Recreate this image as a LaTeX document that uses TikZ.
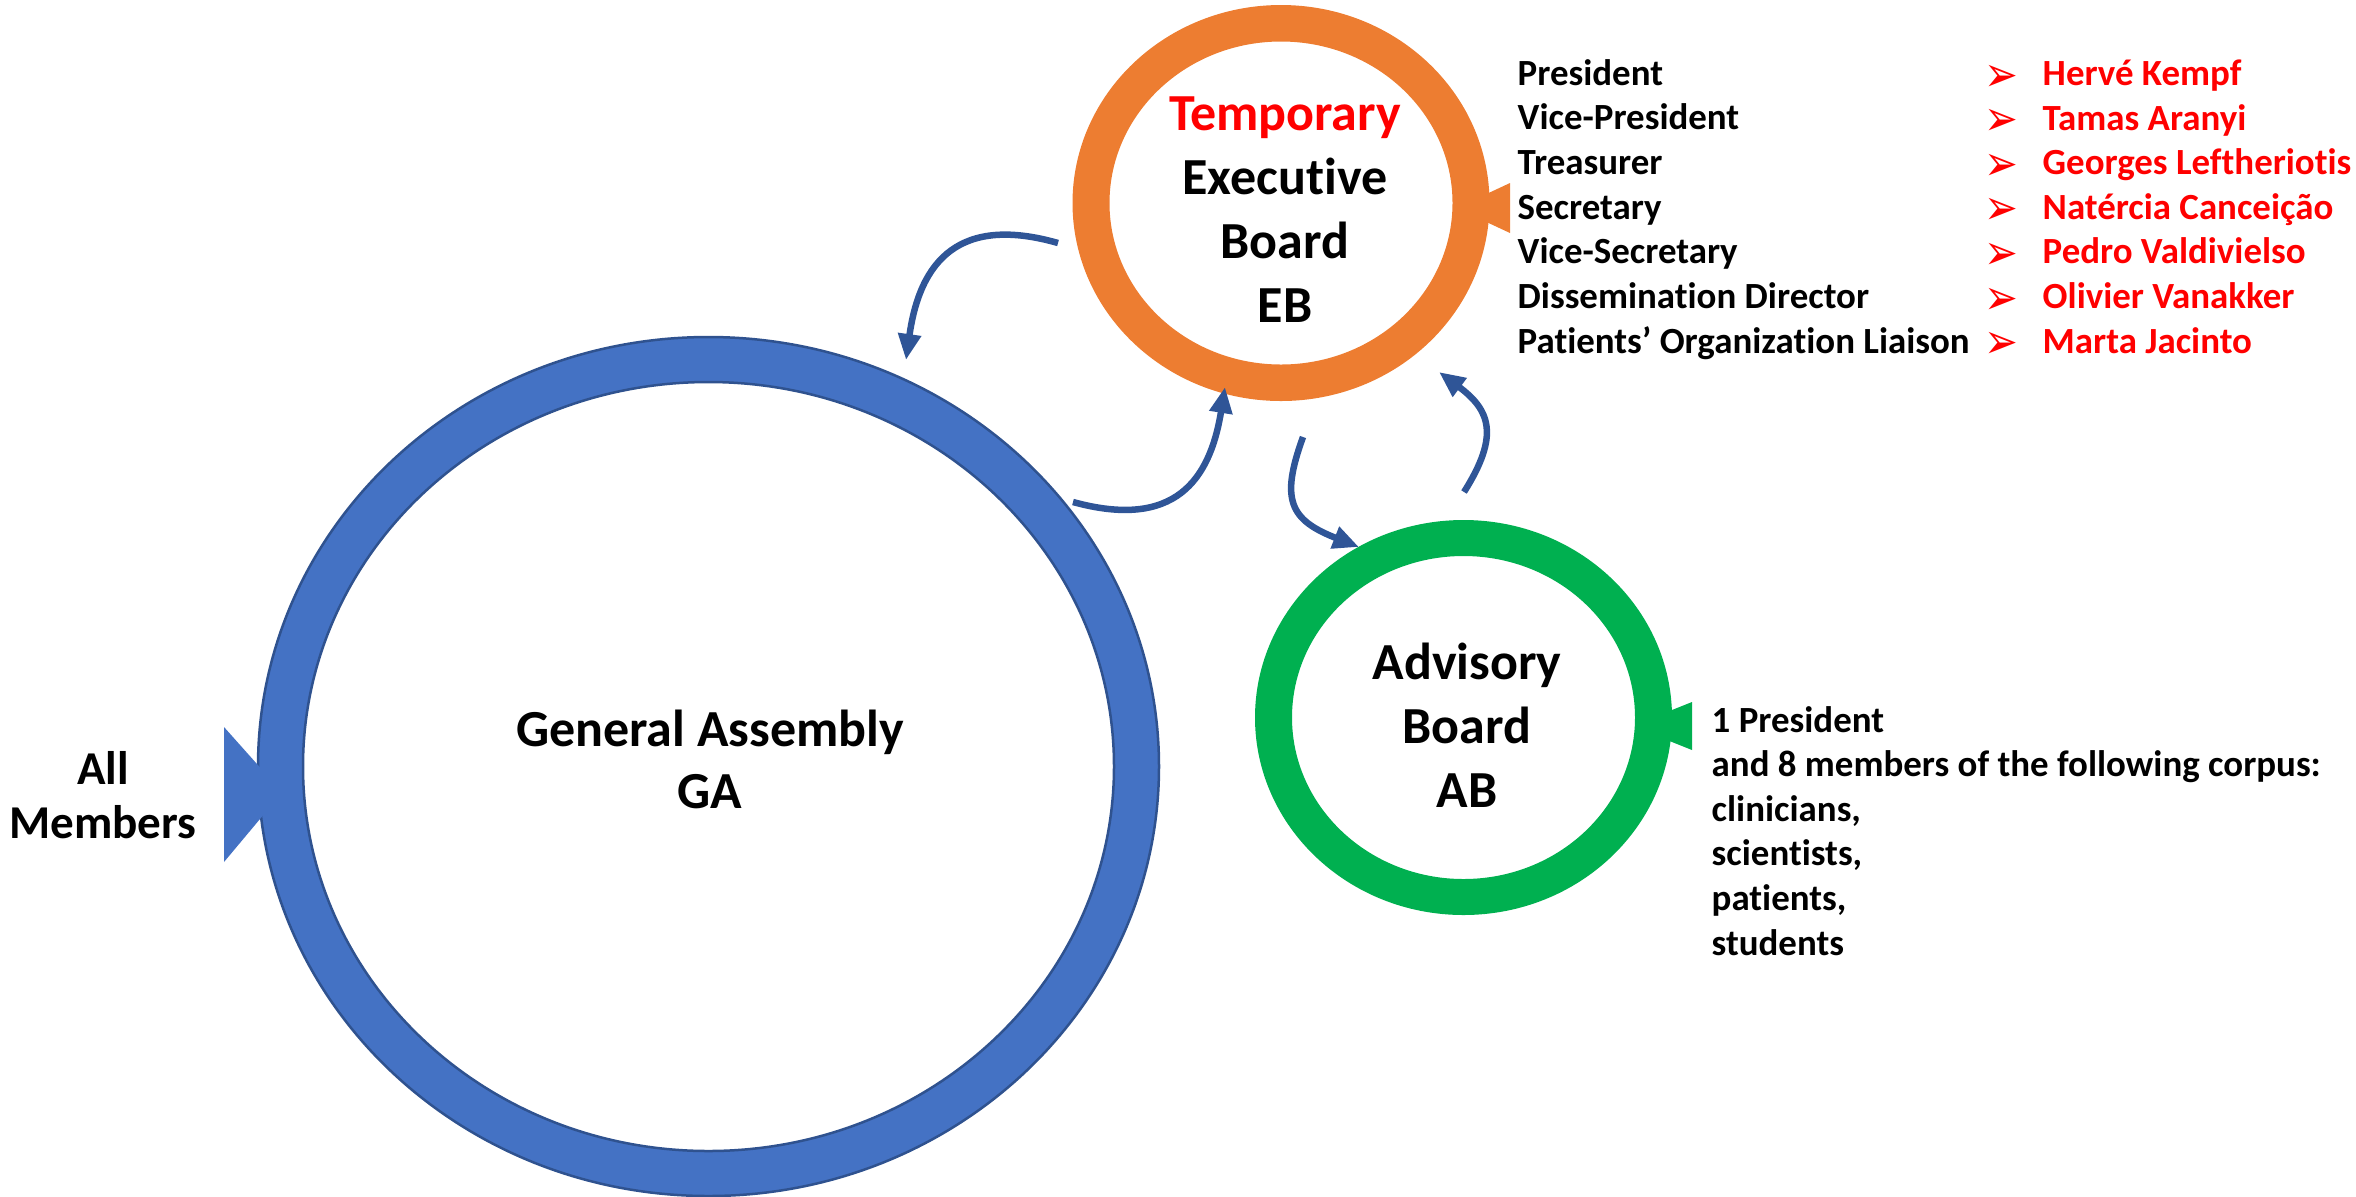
\documentclass[tikz,border=0pt]{standalone}
\usepackage{fontspec}
\setmainfont{Carlito}[Ligatures=CommonOff]
\newfontfamily\dingfont{DejaVu Sans}
\usetikzlibrary{arrows.meta}
\definecolor{gablue}{HTML}{4472C4}
\definecolor{galine}{HTML}{2F528F}
\definecolor{eborange}{HTML}{ED7D31}
\definecolor{abgreen}{HTML}{00B050}
\definecolor{linkblue}{HTML}{2F5597}
\definecolor{namered}{HTML}{FF0000}
\tikzset{>={Triangle[width=2.2mm,length=2.6mm]},
  link/.style={linkblue,line width=0.65mm,->},
  bodytext/.style={inner sep=0pt,anchor=base,align=center},
  listtext/.style={inner sep=0pt,anchor=base west,font=\bfseries\fontsize{10.5}{12.6}\selectfont}}

\begin{document}
\begin{tikzpicture}[x=0.1mm,y=-0.1mm]
\useasboundingbox (0,0) rectangle (2356,1196);
\coordinate (ga-c) at (708.5,766.5);
\coordinate (eb-c) at (1281,203);
\coordinate (ab-c) at (1463.5,717.5);
% rings
\fill[gablue,draw=galine,line width=0.25mm,even odd rule] (ga-c) ellipse (450.5 and 429.5) (ga-c) ellipse (405.5 and 384.5);
\fill[eborange,even odd rule] (eb-c) ellipse (208.5 and 198) (eb-c) ellipse (171.5 and 161.5);
\fill[abgreen,even odd rule] (ab-c) ellipse (208.5 and 197.5) (ab-c) ellipse (171.5 and 161.5);
% flags
\fill[gablue] (224,727) -- (265,773) -- (265,813) -- (224,862) -- cycle;
\fill[eborange] (1510,183) -- (1480,197) -- (1480,219) -- (1510,233) -- cycle;
\fill[abgreen] (1692,702) -- (1662,714) -- (1662,738) -- (1692,750) -- cycle;

% base = last line
\node[bodytext,font=\bfseries\fontsize{14.8}{17.4}\selectfont] (ga) at (710,808) {General Assembly\\GA};
\node[bodytext,font=\bfseries\fontsize{14.8}{18.2}\selectfont] (eb) at (1285,322) {\textcolor{namered}{Temporary}\\Executive\\Board\\EB};
\node[bodytext,font=\bfseries\fontsize{14.8}{18.1}\selectfont] (ab) at (1467,807) {Advisory\\Board\\AB};
\node[bodytext,font=\bfseries\fontsize{13.4}{15.1}\selectfont] (all) at (103,838) {All\\Members};

\foreach \role [count=\i] in {President,Vice-President,Treasurer,Secretary,Vice-Secretary,Dissemination Director,Patients’ Organization Liaison}
  \node[listtext] (role\i) at (1517,{85+44.7*(\i-1)}) {\role};
\foreach \who [count=\i] in {Hervé Kempf,Tamas Aranyi,Georges Leftheriotis,Natércia Canceição,Pedro Valdivielso,Olivier Vanakker,Marta Jacinto} {
  \node[listtext,namered] (who\i) at (2042,{85.5+44.6*(\i-1)}) {\who};
  \node[listtext,namered,font=\dingfont\fontsize{10}{12}\selectfont] (tip\i) at (1984,{91+44.6*(\i-1)}) {\scalebox{1.15}[1.4]{➢}};
}
\foreach \line [count=\i] in {1 President,and 8 members of the following corpus:,{clinicians,},{scientists,},{patients,},students}
  \node[listtext] (abline\i) at (1711,{732+44.6*(\i-1)}) {\line};

% links
\coordinate (eb-to-ga) at (1058,243);
\coordinate (ga-in) at (906,360);
\coordinate (ga-to-eb) at (1073,502);
\coordinate (eb-from-ga) at (1225,387);
\coordinate (eb-to-ab) at (1303,437);
\coordinate (ab-in) at (1359,547);
\coordinate (ab-to-eb) at (1464,492);
\coordinate (eb-from-ab) at (1439,372);
\draw[link] (eb-to-ga) .. controls +(-98,-28) and +(14,-100) .. (ga-in);
\draw[link] (ga-to-eb) .. controls +(102,28) and +(-15,93) .. (eb-from-ga);
\draw[link] (eb-to-ab) .. controls +(-23,63) and +(-69,-27) .. (ab-in);
\draw[link] (ab-to-eb) .. controls +(36,-57) and +(51,38) .. (eb-from-ab);
\end{tikzpicture}
\end{document}
